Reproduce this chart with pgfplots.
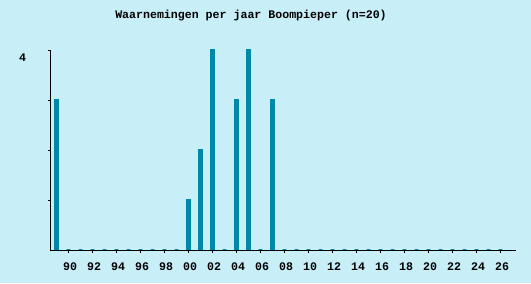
\documentclass[border=0pt]{standalone}
\usepackage{pgfplots}
\pgfplotsset{compat=1.18}
\usepackage{fontspec}
\setmonofont{Liberation Mono}
\definecolor{bg}{RGB}{200,238,248}
\definecolor{barc}{RGB}{0,136,168}
\begin{document}
\begin{tikzpicture}[x=1bp,y=1bp]
\fill[bg] (0,0) rectangle (531,283);
\node[font=\ttfamily\bfseries\fontsize{11.6bp}{13bp}\selectfont] at (251,267) {Waarnemingen per jaar Boompieper (n=20)};
\begin{axis}[
  at={(50bp,33bp)}, anchor=south west,
  scale only axis, width=466bp, height=200bp,
  xmin=88.4583, xmax=127.2917, ymin=0, ymax=4,
  enlargelimits=false,
  axis x line*=bottom, axis y line*=left,
  axis line style={draw=none},
  ybar, bar width=3.6bp,
  xtick={90,92,...,126},
  xticklabels={90,92,94,96,98,00,02,04,06,08,10,12,14,16,18,20,22,24,26},
  ytick={1,2,3,4}, yticklabels={,,,4},
  tick align=outside, major tick length=2.5bp,
  tick style={black, line width=0.8bp},
  ticklabel style={font=\ttfamily\bfseries\fontsize{11.6bp}{13bp}\selectfont},
  yticklabel style={xshift=-18bp, yshift=-7.5bp},
  xticklabel style={xshift=1.5bp, yshift=-6.5bp},
  clip=false,
]
\addplot[fill=barc, draw=barc, line width=1.4bp] coordinates {
(89,3)(90,0)(91,0)(92,0)(93,0)(94,0)(95,0)(96,0)(97,0)(98,0)(99,0)
(100,1)(101,2)(102,4)(103,0)(104,3)(105,4)(106,0)(107,3)(108,0)(109,0)
(110,0)(111,0)(112,0)(113,0)(114,0)(115,0)(116,0)(117,0)(118,0)(119,0)
(120,0)(121,0)(122,0)(123,0)(124,0)(125,0)(126,0)
};
\end{axis}
\draw[black, line width=1bp] (50,233) -- (50,33) -- (516,33);
\end{tikzpicture}
\end{document}
